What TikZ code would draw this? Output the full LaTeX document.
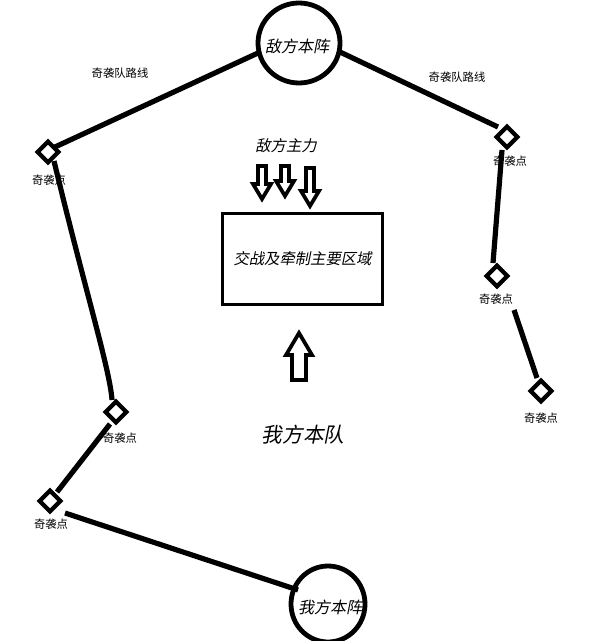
\documentclass[tikz,border=0pt]{standalone}
\usepackage{fontspec}
\newfontfamily\cjk{Noto Sans CJK SC}
\newfontfamily\cjkit[FakeSlant=0.2]{Noto Sans CJK SC}
\usetikzlibrary{shapes.geometric}
\begin{document}
\begin{tikzpicture}[x=0.75pt,y=-0.75pt,
  route/.style={line width=3.9pt},
  raid/.style={diamond,draw,line width=3.2pt,minimum size=17pt,inner sep=0pt},
  raidlabel/.style={font=\cjk\fontsize{8.5}{10}\selectfont,inner sep=0pt},
  base/.style={ellipse,draw,line width=3.6pt,inner sep=0pt},
  itlabel/.style={font=\cjkit\fontsize{11.5}{13}\selectfont,inner sep=0pt},
  barrow/.style={draw,line width=2.8pt,line join=miter,fill=white}]
\useasboundingbox[fill=white] (0,0) rectangle (595,641);
% bases
\node[base,minimum width=82*0.75pt,minimum height=80*0.75pt] (enemy) at (299,43) {};
\node[itlabel,font=\cjkit\fontsize{12}{14}\selectfont] (enemyt) at (297,46) {敌方本阵};
\node[base,minimum width=74*0.75pt,minimum height=76*0.75pt] (ours) at (328,604) {};
\node[itlabel,font=\cjkit\fontsize{12}{14}\selectfont] (ourst) at (330,607) {我方本阵};
% raid points
\node[raid] (l1) at (48,152) {};
\node[raid] (l2) at (116,412) {};
\node[raid] (l3) at (50,501) {};
\node[raid] (r1) at (507,137) {};
\node[raid] (r2) at (497,276) {};
\node[raid] (r3) at (541,391) {};
\node[raidlabel] at (49,180) {奇袭点};
\node[raidlabel] at (120,438) {奇袭点};
\node[raidlabel] at (51,524) {奇袭点};
\node[raidlabel] at (510,161) {奇袭点};
\node[raidlabel] at (496,299) {奇袭点};
\node[raidlabel] at (541,418) {奇袭点};
\node[raidlabel] (lroute) at (120,73) {奇袭队路线};
\node[raidlabel] (rroute) at (457,77) {奇袭队路线};
% routes
\coordinate (e1) at (258,53);
\coordinate (e2) at (340,52);
\coordinate (a1) at (55,147);
\coordinate (b1) at (498,127);
\draw[route] (e1) -- (a1);
\draw[route] (e2) -- (b1);
\draw[route] (54,161) .. controls (85,290) and (110,370) .. (112,400);
\draw[route] (110,424) -- (57,492);
\draw[route] (65,513) -- (298,590);
\draw[route] (502,150) -- (493,263);
\draw[route] (514,310) -- (537,378);
% main area
\node[draw,line width=2.6pt,minimum width=160*0.75pt,minimum height=91*0.75pt,
  font=\cjkit\fontsize{11.5}{13}\selectfont] (area) at (302.5,259) {交战及牵制主要区域};
\node[itlabel] (enemymain) at (286,146) {敌方主力};
% enemy arrows
\draw[barrow] (258,166) -- (266,166) -- (266,184) -- (271,184) -- (262,199) -- (253,184) -- (258,184) -- cycle;
\draw[barrow] (281,166) -- (289,166) -- (289,181) -- (294,181) -- (285,196) -- (276,181) -- (281,181) -- cycle;
\draw[barrow] (306,168) -- (314,168) -- (314,191) -- (319,191) -- (310,206) -- (301,191) -- (306,191) -- cycle;
% our arrow
\draw[barrow] (299,333) -- (312,355) -- (306,355) -- (306,380) -- (292,380) -- (292,355) -- (286,355) -- cycle;
\node[itlabel,font=\cjkit\fontsize{15.5}{18}\selectfont] (main) at (303,435) {我方本队};
\end{tikzpicture}
\end{document}
